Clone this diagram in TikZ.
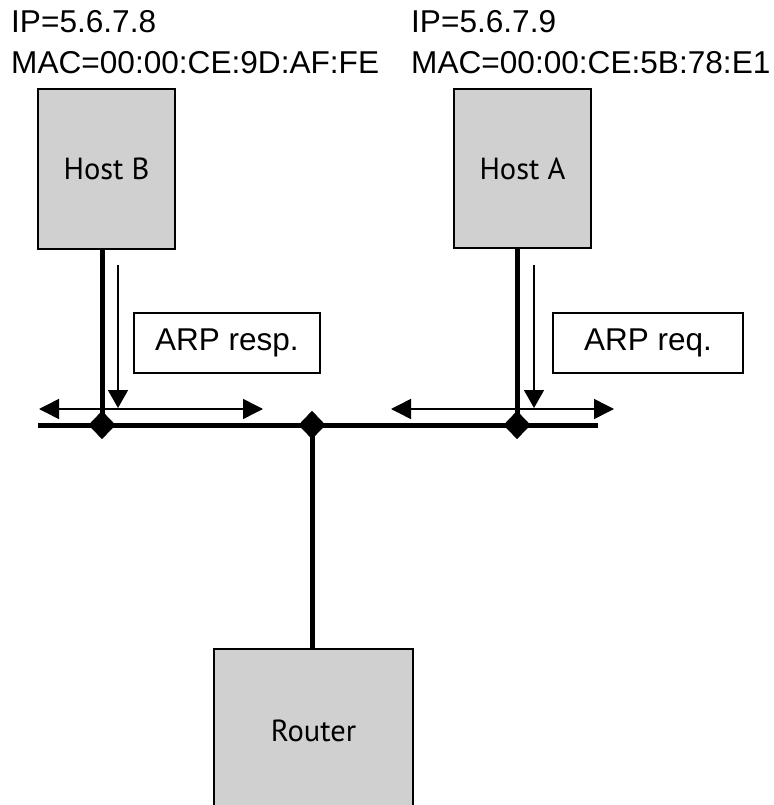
\documentclass[tikz,border=0pt]{standalone}
\usepackage{fontspec}
\setmainfont{Liberation Sans}
\newfontfamily\hostfont{PT Sans}
\usetikzlibrary{arrows.meta,shapes.geometric}
\definecolor{boxgray}{RGB}{208,208,208}
\begin{document}
\begin{tikzpicture}[x=1pt,y=-1pt,
  device/.style={draw=black,line width=2pt,fill=boxgray,inner sep=0pt,
     font=\hostfont\fontsize{30.5}{36}\selectfont},
  msgbox/.style={draw=black,line width=1.5pt,fill=white,inner sep=0pt,
     font=\fontsize{31.5}{37}\selectfont},
  addr/.style={inner sep=0pt,anchor=base west,font=\fontsize{31.6}{37}\selectfont},
  joint/.style={diamond,fill=black,inner sep=0pt,minimum width=27pt,minimum height=28pt},
  wire/.style={line width=5pt},
  flow/.style={line width=1.5pt,-{Triangle[length=18pt,width=20pt]}},
  bothways/.style={line width=1.5pt,{Triangle[length=20pt,width=20pt]}-{Triangle[length=20pt,width=20pt]}}
]
\useasboundingbox (0,0) rectangle (773,805);
\begin{scope}
\clip (0,0) rectangle (773,805);
% address labels
\node[addr] (ipB) at (11,33) {IP=5.6.7.8};
\node[addr] (macB) at (11,74) {MAC=00:00:CE:9D:AF:FE};
\node[addr] (ipA) at (411,33) {IP=5.6.7.9};
\node[addr] (macA) at (411,74) {MAC=00:00:CE:5B:78:E1};
% bus geometry
\coordinate (busL) at (38,425);
\coordinate (busR) at (598,425);
\node[joint] (dB) at (102,425) {};
\node[joint] (dR) at (312,425) {};
\node[joint] (dA) at (517,425) {};
% devices
\node[device,minimum width=137pt,minimum height=160pt] (hostB) at (106.5,169) {Host B};
\node[device,minimum width=137pt,minimum height=159pt] (hostA) at (522.5,168.5) {Host A};
\node[device,minimum width=199pt,minimum height=163pt] (router) at (313.5,730.5) {Router};
% wires
\draw[wire] (busL) -- (busR);
\draw[wire] (hostB.south -| dB) -- (dB.center);
\draw[wire] (hostA.south -| dA) -- (dA.center);
\draw[wire] (dR.center) -- (router.north -| dR);
\node[joint] at (dB) {};
\node[joint] at (dR) {};
\node[joint] at (dA) {};
% message boxes
\node[msgbox,minimum width=186pt,minimum height=60pt] (resp) at (227,343) {ARP resp.};
\node[msgbox,minimum width=190pt,minimum height=60pt] (req) at (648,343) {ARP req.};
% flow arrows
\coordinate (fBs) at (118,265);
\coordinate (fBe) at (118,408);
\coordinate (fAs) at (534,265);
\coordinate (fAe) at (534,408);
\draw[flow] (fBs) -- (fBe);
\draw[flow] (fAs) -- (fAe);
\coordinate (bL1) at (39,409);
\coordinate (bL2) at (263,409);
\coordinate (bR1) at (391,409);
\coordinate (bR2) at (614,409);
\draw[bothways] (bL1) -- (bL2);
\draw[bothways] (bR1) -- (bR2);
\end{scope}
\end{tikzpicture}
\end{document}
